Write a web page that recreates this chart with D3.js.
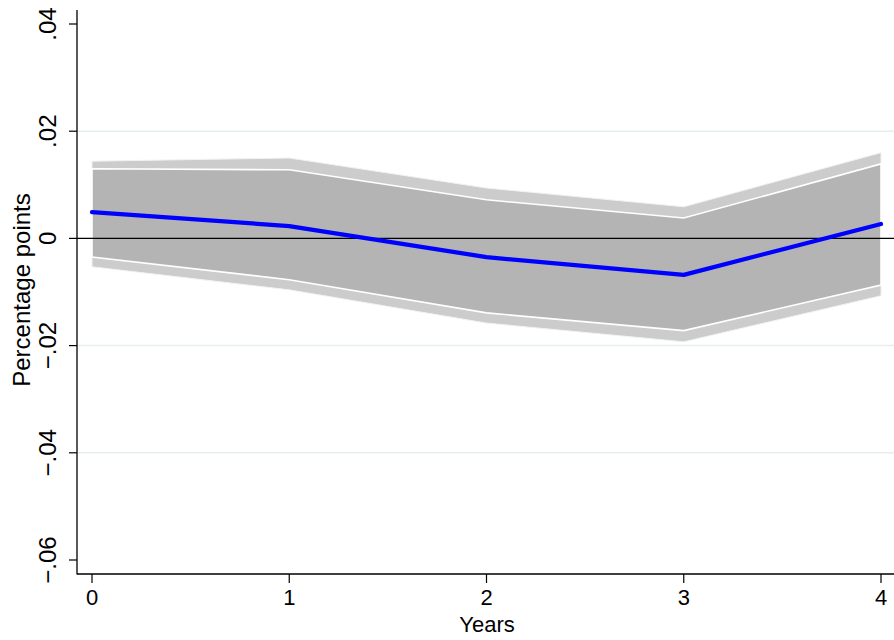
<!DOCTYPE html>
<html>
<head>
<meta charset="utf-8">
<script src="https://cdn.jsdelivr.net/npm/d3@7"></script>
<style>
  body { margin: 0; background: #fff; }
  text { font-family: "Liberation Sans", Arial, Helvetica, sans-serif; }
</style>
</head>
<body>
<svg id="chart" width="894" height="640"></svg>
<script>
const years = [0, 1, 2, 3, 4];
const estimate   = [0.0049, 0.0023, -0.0035, -0.0068, 0.0027];
const innerUpper = [0.0130, 0.0128, 0.0072, 0.0038, 0.0139];
const innerLower = [-0.0035, -0.0077, -0.0139, -0.0172, -0.0087];
const outerUpper = [0.0144, 0.0150, 0.0094, 0.0059, 0.0160];
const outerLower = [-0.0053, -0.0096, -0.0158, -0.0193, -0.0107];
const yTicks = [-0.06, -0.04, -0.02, 0, 0.02, 0.04];
const yTickLabels = ["\u2212.06", "\u2212.04", "\u2212.02", "0", ".02", ".04"];
const gridTicks = [-0.04, -0.02, 0.02];
const xTicks = [0, 1, 2, 3, 4];

const svg = d3.select("#chart");
const W = 894, H = 640;
const axisX = 77, axisY = 574, topY = 10;
const FS = 24, FSX = 22;

const x = d3.scaleLinear().domain([0, 4]).range([92, 881]);
const y = d3.scaleLinear().domain([-0.06, 0.04]).range([560, 24]);

// gridlines
svg.append("g").selectAll("line").data(gridTicks).join("line")
  .attr("x1", axisX).attr("x2", W)
  .attr("y1", d => y(d)).attr("y2", d => y(d))
  .attr("stroke", "#e6eef0").attr("stroke-width", 1.5);

const rows = years.map((yr, i) => ({yr, e: estimate[i], iu: innerUpper[i], il: innerLower[i], ou: outerUpper[i], ol: outerLower[i]}));

const outerArea = d3.area().x(d => x(d.yr)).y0(d => y(d.ol)).y1(d => y(d.ou));
const innerArea = d3.area().x(d => x(d.yr)).y0(d => y(d.il)).y1(d => y(d.iu));

svg.append("path").datum(rows).attr("d", outerArea)
  .attr("fill", "#cccccc").attr("stroke", "#f2f2f2").attr("stroke-width", 1);
svg.append("path").datum(rows).attr("d", innerArea)
  .attr("fill", "#b4b4b4").attr("stroke", "#ffffff").attr("stroke-width", 1.6);

// zero line
svg.append("line").attr("x1", axisX).attr("x2", W)
  .attr("y1", y(0)).attr("y2", y(0))
  .attr("stroke", "#000").attr("stroke-width", 1.4);

// estimate line
svg.append("path").datum(rows)
  .attr("d", d3.line().x(d => x(d.yr)).y(d => y(d.e)))
  .attr("fill", "none").attr("stroke", "#0000ff").attr("stroke-width", 4.2)
  .attr("stroke-linecap", "round").attr("stroke-linejoin", "round");

// axes lines
svg.append("line").attr("x1", axisX).attr("x2", axisX).attr("y1", topY).attr("y2", axisY + 0.5)
  .attr("stroke", "#000").attr("stroke-width", 1.3);
svg.append("line").attr("x1", axisX).attr("x2", W).attr("y1", axisY).attr("y2", axisY)
  .attr("stroke", "#000").attr("stroke-width", 1.3);

// y ticks
const yt = svg.append("g");
yt.selectAll("line").data(yTicks).join("line")
  .attr("x1", axisX - 8).attr("x2", axisX)
  .attr("y1", d => y(d)).attr("y2", d => y(d))
  .attr("stroke", "#000").attr("stroke-width", 1.2);
yt.selectAll("text").data(yTicks).join("text")
  .attr("transform", d => `translate(56,${y(d)}) rotate(-90)`)
  .attr("text-anchor", "middle")
  .attr("font-size", FS)
  .text((d, i) => yTickLabels[i]);

// x ticks
const xt = svg.append("g");
xt.selectAll("line").data(xTicks).join("line")
  .attr("x1", d => x(d)).attr("x2", d => x(d))
  .attr("y1", axisY).attr("y2", axisY + 9)
  .attr("stroke", "#000").attr("stroke-width", 1.2);
xt.selectAll("text").data(xTicks).join("text")
  .attr("x", d => x(d)).attr("y", 605)
  .attr("text-anchor", "middle")
  .attr("font-size", FSX)
  .text(d => d);

// axis titles
svg.append("text").attr("x", 487).attr("y", 632)
  .attr("text-anchor", "middle").attr("font-size", FSX).text("Years");
svg.append("text").attr("transform", `translate(30,290) rotate(-90)`)
  .attr("text-anchor", "middle").attr("font-size", FS).text("Percentage points");
</script>
</body>
</html>
